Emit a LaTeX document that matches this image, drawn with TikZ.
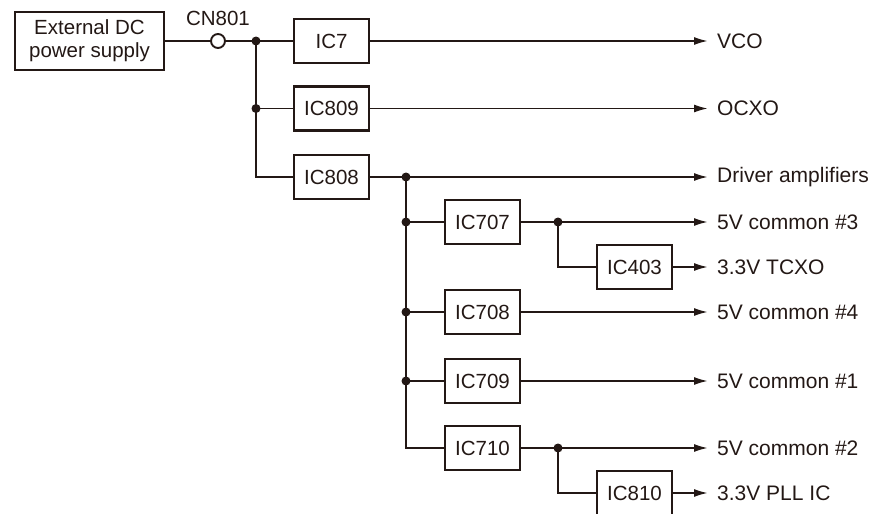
\documentclass[tikz,border=0pt]{standalone}
\usepackage{fontspec}
\setmainfont{Liberation Sans}
\usetikzlibrary{arrows.meta}
\definecolor{ink}{HTML}{231815}
\begin{document}
\begin{tikzpicture}[x=1pt,y=-1pt,
  every node/.style={text=ink},
  box/.style={draw=ink, line width=2.4pt, minimum width=75pt, minimum height=44pt, inner sep=0pt, font=\fontsize{20.5}{24}\selectfont},
  lbl/.style={anchor=west, inner sep=0pt, font=\fontsize{21}{24}\selectfont},
  wire/.style={draw=ink, line width=1.9pt},
  arr/.style={wire, -{Latex[length=14pt,width=8pt]}},
  dot/.style={circle, fill=ink, inner sep=0pt, minimum size=9pt}]
\useasboundingbox (0,0) rectangle (887,514);
% boxes
\node[box, minimum width=149pt, minimum height=58pt, align=center, font=\fontsize{20.5}{23}\selectfont] (ext) at (89.5,41) {External DC\\power supply};
\node[circle, draw=ink, line width=1.9pt, fill=white, minimum size=14pt, inner sep=0pt] (cn) at (218,41) {};
\node[inner sep=0pt, font=\fontsize{20.5}{24}\selectfont] (cnl) at (218,18.5) {CN801};
\node[box] (ic7) at (331.5,41) {IC7};
\node[box] (ic809) at (331.5,108.5) {IC809};
\node[box] (ic808) at (331.5,177) {IC808};
\node[box] (ic707) at (482.5,222) {IC707};
\node[box] (ic708) at (482.5,312) {IC708};
\node[box] (ic709) at (482.5,381) {IC709};
\node[box] (ic710) at (482.5,448) {IC710};
\node[box] (ic403) at (634.5,267) {IC403};
\node[box] (ic810) at (634.5,493) {IC810};
% labels
\node[lbl] (vco) at (717,41) {VCO};
\node[lbl] (ocxo) at (717,108.5) {OCXO};
\node[lbl] (drv) at (717,177) {Driver amplifiers};
\node[lbl] (c3) at (717,222) {5V common \#3};
\node[lbl] (tcxo) at (717,267) {3.3V TCXO};
\node[lbl] (c4) at (717,312) {5V common \#4};
\node[lbl] (c1) at (717,381) {5V common \#1};
\node[lbl] (c2) at (717,448) {5V common \#2};
\node[lbl] (pll) at (717,493) {3.3V PLL IC};
% junction coordinates
\coordinate (j1) at (256,41);
\coordinate (j2) at (256,108.5);
\coordinate (j3) at (406,177);
\coordinate (j4) at (406,222);
\coordinate (j5) at (406,312);
\coordinate (j6) at (406,381);
\coordinate (j7) at (558,222);
\coordinate (j8) at (558,448);
% wires
\path[wire] (ext.east) -- (cn.west);
\path[wire] (cn.east) -- (ic7.west);
\path[wire] (j1) |- (ic808.west);
\path[wire] (j2) -- (ic809.west);
\path[arr] (ic7.east) -- (708,41);
\path[arr] (ic809.east) -- (708,108.5);
\path[arr] (ic808.east) -- (708,177);
\path[wire] (j3) |- (ic710.west);
\path[wire] (j4) -- (ic707.west);
\path[wire] (j5) -- (ic708.west);
\path[wire] (j6) -- (ic709.west);
\path[arr] (ic707.east) -- (708,222);
\path[wire] (j7) |- (ic403.west);
\path[arr] (ic403.east) -- (708,267);
\path[arr] (ic708.east) -- (708,312);
\path[arr] (ic709.east) -- (708,381);
\path[arr] (ic710.east) -- (708,448);
\path[wire] (j8) |- (ic810.west);
\path[arr] (ic810.east) -- (708,493);
% dots
\foreach \j in {j1,j2,j3,j4,j5,j6,j7,j8} \node[dot] at (\j) {};
\end{tikzpicture}
\end{document}
